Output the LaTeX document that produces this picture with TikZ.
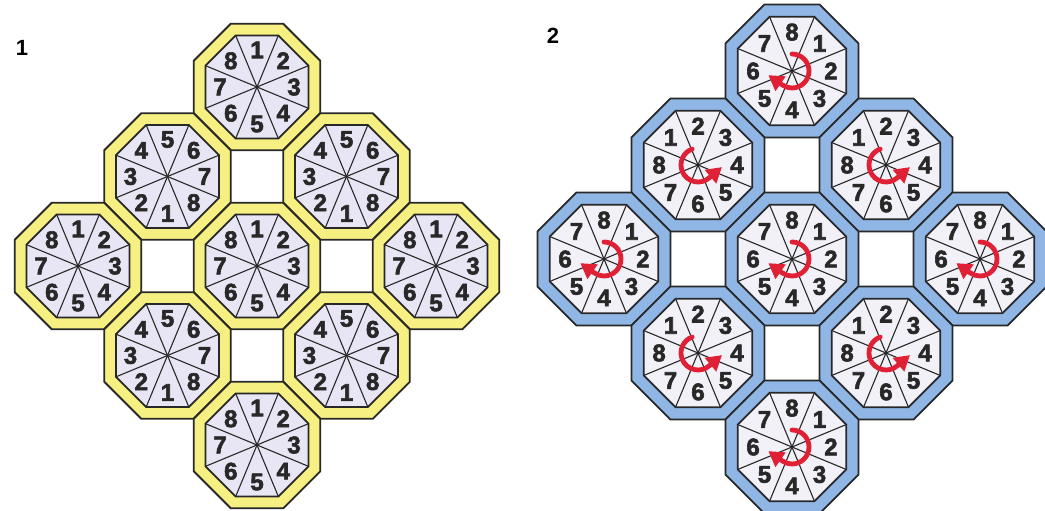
\documentclass[tikz,border=0pt]{standalone}
\usepackage{fontspec}
\setmainfont{Liberation Sans}
\newfontfamily\dialfont[BoldFeatures={FakeBold=2.5}]{Liberation Sans}
\usetikzlibrary{arrows.meta}
\definecolor{lemon}{RGB}{246,240,130}
\definecolor{lilac}{RGB}{232,230,245}
\definecolor{sky}{RGB}{143,182,228}
\definecolor{paper}{RGB}{242,241,247}
\definecolor{ink}{RGB}{40,40,40}
\definecolor{arrowred}{RGB}{224,32,52}

% one dial: #1 name, #2 centre, #3 apothem, #4 rim colour, #5 face colour, #6 digits (top first, clockwise)
\newcommand{\dialoct}[6]{%
  \begin{scope}[shift={#2}]
    \coordinate (#1) at (0,0);
    \pgfmathsetmacro{\octR}{#3/cos(22.5)}
    \pgfmathsetmacro{\octr}{0.815*\octR}
    \draw[rim, fill=#4] (22.5:\octR) \foreach \j in {1,...,7} {-- (22.5+45*\j:\octR)} -- cycle;
    \draw[rim, fill=#5] (22.5:\octr) \foreach \j in {1,...,7} {-- (22.5+45*\j:\octr)} -- cycle;
    \foreach \j in {0,...,7} \draw[spoke] (#1) -- (22.5+45*\j:\octr);
    \foreach \d [count=\k] in {#6}
      \node[digit] (#1-\k) at (135-45*\k:0.585*#3) {\d};
  \end{scope}}

% red turning arrows
\newcommand{\spincw}[1]{\draw[spin] (#1) ++(90:17) arc[start angle=90, end angle=-125, radius=17] -- ++(145:17);}
\newcommand{\spinccw}[1]{\draw[spin] (#1) ++(110:17) arc[start angle=110, end angle=310, radius=17] -- ++(40:17);}

\begin{document}
\begin{tikzpicture}[
    x=1pt, y=1pt,
    rim/.style={draw=ink, line width=1.8pt, line join=miter},
    spoke/.style={draw=ink, line width=1.1pt},
    digit/.style={font=\dialfont\fontsize{24}{24}\selectfont\bfseries, text=ink, inner sep=0pt},
    spin/.style={arrowred, line width=4.8pt, line cap=round, -{Triangle[length=15pt, width=17pt]}},
    panel/.style={font=\fontsize{22}{22}\selectfont\bfseries, inner sep=0pt},
]
\useasboundingbox (0,0) rectangle (1045,-511);

% panel 1
\node[panel] (tag1) at (22,-48) {1};
\dialoct{a1}{(257,-87)}{63.3}{lemon}{lilac}{1,2,3,4,5,6,7,8}
\dialoct{a2}{(167.5,-176.5)}{63.3}{lemon}{lilac}{5,6,7,8,1,2,3,4}
\dialoct{a3}{(346.5,-176.5)}{63.3}{lemon}{lilac}{5,6,7,8,1,2,3,4}
\dialoct{a4}{(78,-266)}{63.3}{lemon}{lilac}{1,2,3,4,5,6,7,8}
\dialoct{a5}{(257,-266)}{63.3}{lemon}{lilac}{1,2,3,4,5,6,7,8}
\dialoct{a6}{(436,-266)}{63.3}{lemon}{lilac}{1,2,3,4,5,6,7,8}
\dialoct{a7}{(167.5,-355.5)}{63.3}{lemon}{lilac}{5,6,7,8,1,2,3,4}
\dialoct{a8}{(346.5,-355.5)}{63.3}{lemon}{lilac}{5,6,7,8,1,2,3,4}
\dialoct{a9}{(257,-445)}{63.3}{lemon}{lilac}{1,2,3,4,5,6,7,8}

% panel 2
\node[panel] (tag2) at (553,-36) {2};
\dialoct{b1}{(792,-71)}{66.5}{sky}{paper}{8,1,2,3,4,5,6,7}
\dialoct{b2}{(698,-165)}{66.5}{sky}{paper}{2,3,4,5,6,7,8,1}
\dialoct{b3}{(886,-165)}{66.5}{sky}{paper}{2,3,4,5,6,7,8,1}
\dialoct{b4}{(604,-259)}{66.5}{sky}{paper}{8,1,2,3,4,5,6,7}
\dialoct{b5}{(792,-259)}{66.5}{sky}{paper}{8,1,2,3,4,5,6,7}
\dialoct{b6}{(980,-259)}{66.5}{sky}{paper}{8,1,2,3,4,5,6,7}
\dialoct{b7}{(698,-353)}{66.5}{sky}{paper}{2,3,4,5,6,7,8,1}
\dialoct{b8}{(886,-353)}{66.5}{sky}{paper}{2,3,4,5,6,7,8,1}
\dialoct{b9}{(792,-447)}{66.5}{sky}{paper}{8,1,2,3,4,5,6,7}

\spincw{b1} \spincw{b4} \spincw{b5} \spincw{b6} \spincw{b9}
\spinccw{b2} \spinccw{b3} \spinccw{b7} \spinccw{b8}

\end{tikzpicture}
\end{document}
